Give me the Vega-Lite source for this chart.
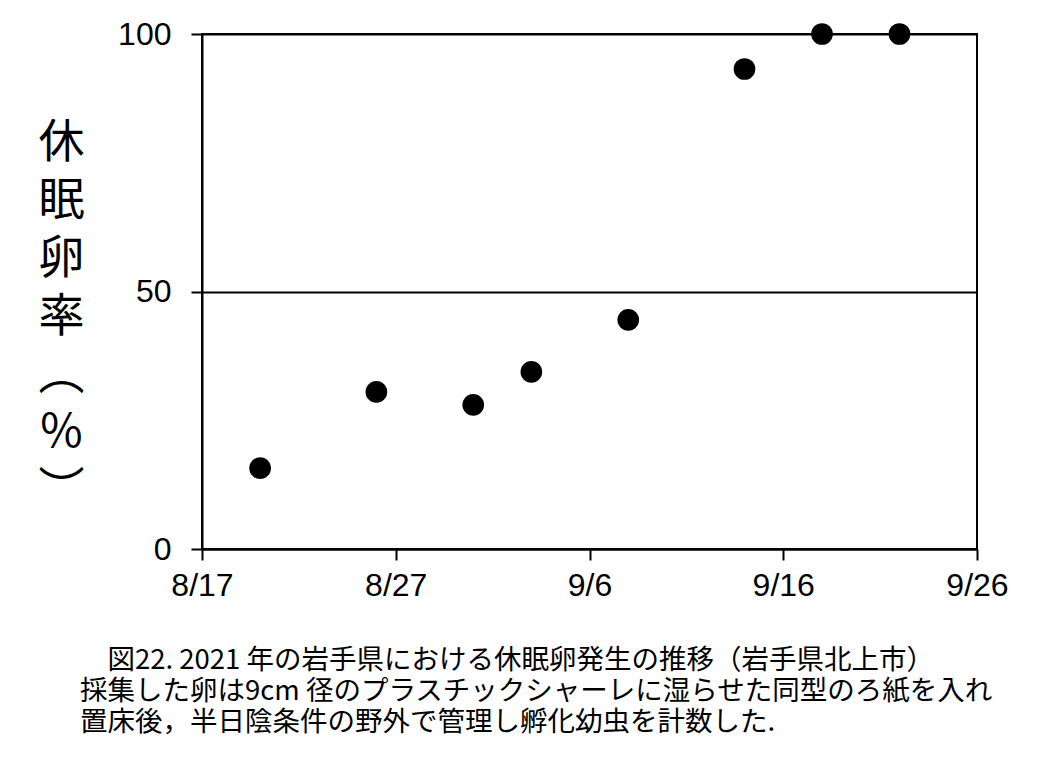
{
  "$schema": "https://vega.github.io/schema/vega-lite/v6.json",
  "width": 775,
  "height": 515,
  "autosize": {"type": "none"},
  "padding": {"left": 202, "top": 34, "right": 67, "bottom": 210},
  "background": "white",
  "config": {
    "view": {"stroke": "black", "strokeWidth": 2},
    "axis": {"labelFont": "Liberation Sans", "labelColor": "black", "labelFontSize": 32}
  },
  "title": {
    "text": ["\u200b　図22. 2021 年の岩手県における休眠卵発生の推移（岩手県北上市）", "採集した卵は9cm 径のプラスチックシャーレに湿らせた同型のろ紙を入れ", "置床後，半日陰条件の野外で管理し孵化幼虫を計数した."],
    "orient": "bottom",
    "anchor": "start",
    "frame": "group",
    "dx": -122,
    "offset": 46,
    "font": "Noto Sans CJK JP",
    "fontSize": 27.5,
    "fontWeight": "normal",
    "lineHeight": 31,
    "color": "black"
  },
  "data": {
    "values": [
      {"date": "2021-08-20", "rate": 15.7},
      {"date": "2021-08-26", "rate": 30.5},
      {"date": "2021-08-31", "rate": 28.0},
      {"date": "2021-09-03", "rate": 34.4},
      {"date": "2021-09-08", "rate": 44.5},
      {"date": "2021-09-14", "rate": 93.2},
      {"date": "2021-09-18", "rate": 100},
      {"date": "2021-09-22", "rate": 100}
    ]
  },
  "mark": {"type": "point", "filled": true, "color": "black", "opacity": 1, "size": 470},
  "encoding": {
    "x": {
      "field": "date",
      "type": "temporal",
      "scale": {"type": "utc", "domain": [{"year": 2021, "month": 8, "date": 17, "utc": true}, {"year": 2021, "month": 9, "date": 26, "utc": true}]},
      "axis": {
        "title": null,
        "values": [
          {"year": 2021, "month": 8, "date": 17, "utc": true},
          {"year": 2021, "month": 8, "date": 27, "utc": true},
          {"year": 2021, "month": 9, "date": 6, "utc": true},
          {"year": 2021, "month": 9, "date": 16, "utc": true},
          {"year": 2021, "month": 9, "date": 26, "utc": true}
        ],
        "format": "%-m/%-d",
        "grid": false,
        "domainColor": "black",
        "domainWidth": 2,
        "tickColor": "black",
        "tickWidth": 2,
        "tickSize": 11,
        "labelPadding": 10,
        "labelFlush": false,
        "labelOverlap": false
      }
    },
    "y": {
      "field": "rate",
      "type": "quantitative",
      "scale": {"domain": [0, 100], "nice": false},
      "axis": {
        "values": [0, 50, 100],
        "grid": true,
        "gridColor": "black",
        "gridWidth": 2,
        "gridOpacity": 1,
        "domainColor": "black",
        "domainWidth": 2,
        "tickColor": "black",
        "tickWidth": 2,
        "tickSize": 11,
        "labelPadding": 20,
        "title": ["休", "眠", "卵", "率", "︵", "%", "︶"],
        "titleFont": "Noto Sans CJK JP",
        "titleFontSize": 46,
        "titleFontWeight": "normal",
        "titleColor": "black",
        "titleAngle": 0,
        "titleAlign": "center",
        "titleBaseline": "top",
        "titleLineHeight": 58,
        "titleX": -141,
        "titleY": 86
      }
    }
  }
}
